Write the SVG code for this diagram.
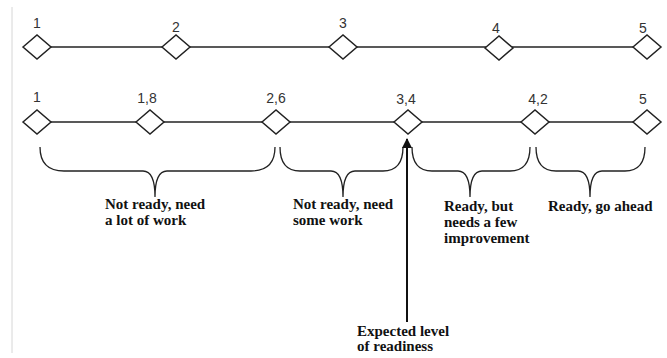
<svg xmlns="http://www.w3.org/2000/svg" width="667" height="358" viewBox="0 0 667 358">
<style>
.num{font-family:"Liberation Sans","Open Sans",sans-serif;font-size:14px;fill:#333;text-anchor:middle}
.lbl{font-family:'Liberation Serif','DejaVu Serif',serif;font-size:15px;font-weight:bold;fill:#111}
.ln{stroke:#222;stroke-width:1.5;fill:none}
.br{stroke:#222;stroke-width:1.3;fill:none}
</style>
<defs>
<polygon id="dm" points="-14,0 0,-12 14,0 0,12" fill="#fff" stroke="#222" stroke-width="1.5"/>
<marker id="ah" viewBox="0 0 10 10" refX="9" refY="5" markerWidth="6" markerHeight="5" orient="auto" markerUnits="strokeWidth">
<path d="M0,0 L10,5 L0,10 z" fill="#111"/>
</marker>
</defs>
<rect width="667" height="358" fill="#fff"/>
<line x1="12" y1="7" x2="12" y2="353" stroke="#d6d6d6" stroke-width="1"/>
<g id="connectors">
<line class="ln" x1="37" y1="47" x2="647" y2="47"/>
<line class="ln" x1="37" y1="122" x2="647" y2="122"/>
<path class="br" d="M40,147 Q40,171 64,171 L143,171 Q155,171 155,197 Q155,171 167,171 L251,171 Q275,171 275,147"/>
<path class="br" d="M280,147 Q280,171 300,171 L331,171 Q343,171 343,197 Q343,171 355,171 L383,171 Q403,171 403,147"/>
<path class="br" d="M412,147 Q412,171 432,171 L458,171 Q470,171 470,197 Q470,171 482,171 L510,171 Q530,171 530,147"/>
<path class="br" d="M536,147 Q536,171 556,171 L578,171 Q590,171 590,197 Q590,171 602,171 L625,171 Q645,171 645,147"/>
<line x1="407" y1="322" x2="407" y2="139" stroke="#111" stroke-width="2" marker-end="url(#ah)"/>
</g>
<g id="t1"><use href="#dm" x="37" y="47"/><text class="num" x="37" y="28">1</text></g>
<g id="t2"><use href="#dm" x="176" y="47"/><text class="num" x="176" y="32">2</text></g>
<g id="t3"><use href="#dm" x="343" y="47"/><text class="num" x="343" y="28">3</text></g>
<g id="t4"><use href="#dm" x="499" y="48"/><text class="num" x="496" y="33">4</text></g>
<g id="t5"><use href="#dm" x="647" y="47"/><text class="num" x="643" y="33">5</text></g>
<g id="b1"><use href="#dm" x="37" y="122"/><text class="num" x="37" y="102">1</text></g>
<g id="b18"><use href="#dm" x="150" y="122"/><text class="num" x="147" y="103">1,8</text></g>
<g id="b26"><use href="#dm" x="276" y="122"/><text class="num" x="276" y="103">2,6</text></g>
<g id="b34"><use href="#dm" x="408" y="122"/><text class="num" x="406" y="104">3,4</text></g>
<g id="b42"><use href="#dm" x="535" y="122"/><text class="num" x="538" y="104">4,2</text></g>
<g id="b5"><use href="#dm" x="647" y="122"/><text class="num" x="643" y="104">5</text></g>
<g id="l1"><text class="lbl" x="105" y="209">Not ready, need</text><text class="lbl" x="105" y="225">a lot of work</text></g>
<g id="l2"><text class="lbl" x="293" y="209">Not ready, need</text><text class="lbl" x="293" y="225">some work</text></g>
<g id="l3"><text class="lbl" x="444" y="211">Ready, but</text><text class="lbl" x="444" y="227">needs a few</text><text class="lbl" x="444" y="243">improvement</text></g>
<g id="l4"><text class="lbl" x="548" y="211">Ready, go ahead</text></g>
<g id="l5"><text class="lbl" x="357" y="336">Expected level</text><text class="lbl" x="357" y="351">of readiness</text></g>
</svg>
